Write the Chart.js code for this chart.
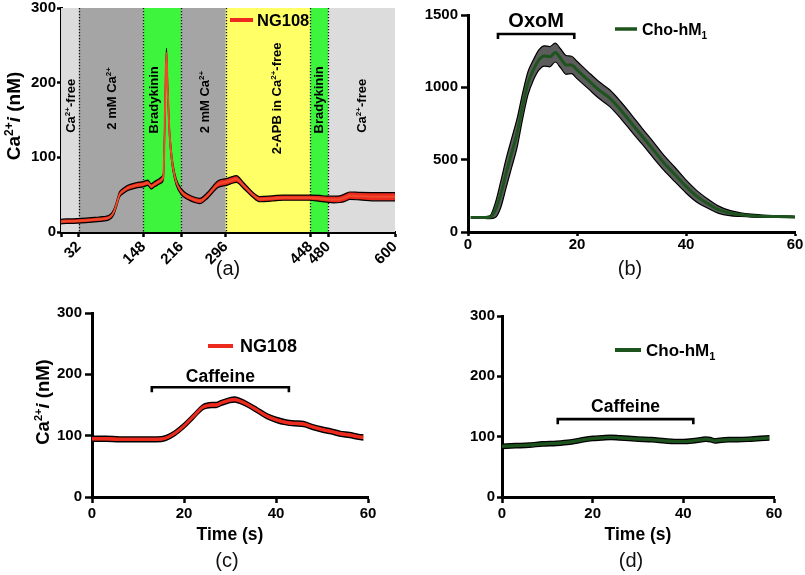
<!DOCTYPE html>
<html><head><meta charset="utf-8">
<script src="https://cdn.jsdelivr.net/npm/chart.js@4.4.1/dist/chart.umd.min.js"></script>
<style>
body{margin:0;background:#fff;width:805px;height:575px;position:relative;overflow:hidden;font-family:"Liberation Sans",Arial,sans-serif}
.pan{position:absolute}
.cap{position:absolute;font-size:20px;transform:translate(-50%,-50%);color:#111;white-space:nowrap}
</style></head><body>
<div class="pan" style="left:0;top:0;width:400px;height:272px"><canvas id="ca"></canvas></div>
<div class="pan" style="left:400px;top:0;width:405px;height:260px"><canvas id="cb"></canvas></div>
<div class="pan" style="left:0;top:290px;width:400px;height:260px"><canvas id="cc"></canvas></div>
<div class="pan" style="left:400px;top:290px;width:405px;height:260px"><canvas id="cd"></canvas></div>
<div class="cap" style="left:228px;top:268px">(a)</div>
<div class="cap" style="left:630px;top:268px">(b)</div>
<div class="cap" style="left:227px;top:560px">(c)</div>
<div class="cap" style="left:631px;top:560px">(d)</div>
<script>
// ---------- DATA ----------
// Panel (a): NG108 cell, time in s, Ca2+i in nM
const aTime = [0,10,20,32,45,60,75,88,95,100,105,112,120,135,148,156,162,168,175,181,184,186,188,189.5,191,193,195,198,201,207,216,228,240,249,264,282,297,305,315,327,345,357,380,399,420,447,465,477,490,501,510,519,537,567,600];
const aMean = [14,14.5,14.5,15,15.5,16.5,17.5,20,27,38,50,55,59,62.5,64,66,61,64,67,70,75,130,210,240,205,165,132,105,87,67,54,47,43,41.5,49.6,64,67,69,71,63,49.6,44,45,46,46,46,45,44,43.5,44,46,48.6,48,47.3,47.3];
const aSem  = [3,3,3,3,3,3,3,3,3.5,3.5,3.5,3.5,3.5,3.5,3.5,3.5,3.5,3.5,3.5,4,4,5,6,6,6,5,5,5,4.5,4,4,3.5,3.5,3.5,4,4.5,4.5,4.5,4.5,4,3.5,3.5,3.5,3.5,3.5,3.5,4,4,4.5,4.5,5,5,5,5.5,5.5];
const aTicks = [0,32,148,216,296,448,480,600];
const aYTicks = [0,100,200,300];
const aBandStart = [0,32,148,216,296,448,480];
const aBandEnd   = [32,148,216,296,448,480,600];
const aBandNames = ['Ca^2+^-free','2 mM Ca^2+^','Bradykinin','2 mM Ca^2+^','2-APB in Ca^2+^-free','Bradykinin','Ca^2+^-free'];
const aLabelTime  = [17,90,165,258,386,462,540];
const aLabelValue = [169,179,177,174,179,177,169];
const aSeries = 'NG108';

// Panel (b): Cho-hM1, OxoM
const bTime = [0.5,2,4,5,6,7,8,9,10,11,12,13,14,15,16,17,18,19,20,22,24,26,28,30,32,34,36,38,40,42,44,46,48,50,52,55,58,60];
const bMean = [100,100,102,150,258,407,545,683,867,1028,1120,1189,1217,1212,1240,1200,1155,1155,1120,1051,982,925,844,752,660,568,476,396,315,246,196,154,131,120,113,108,106,104];
const bSem  = [5,5,10,50,90,100,100,100,90,80,70,70,70,70,65,65,65,60,60,58,58,58,58,58,55,55,52,50,45,40,32,25,18,13,10,7,5,5];
const bXTicks = [0,20,40,60];
const bYTicks = [0,500,1000,1500];
const bBracket = [5.5,19.5];
const bBracketValue = 1369;
const bBracketLabel = 'OxoM';
const bSeries = 'Cho-hM_1_';

// Panel (c): NG108, caffeine
const cTime = [0,3,6,9,12,14,16,18,20,22,24,25,26,27,28,30,31,32,34,36,38,40,42,44,46,48,50,52,54,56,58,59];
const cMean = [95,95,94,94,94,94,96,104,116,131,146,149,150,150,153,158,159,157,150,141,132,126,122,120,119,114,110,107,103,101,98,97];
const cSem  = [4,4,4,4,4,4,4,4,4,4,4,4,4,4,4,4,4,4,4,4,4,4,4,4,4,4,4,4,4,4,4,4];
const cXTicks = [0,20,40,60];
const cYTicks = [0,100,200,300];
const cBracket = [13,42.8];
const cBracketValue = 179;
const cBracketLabel = 'Caffeine';
const cSeries = 'NG108';

// Panel (d): Cho-hM1, caffeine
const dTime = [0,3,6,9,12,15,18,20,22,24,26,28,30,33,36,38,40,42,44,45,46,47,48,50,52,55,57,59];
const dMean = [84,85,86,88,89,91,95,97,98,99,98,97,96,95,93,92,92,93,95,96,95,93,94,95,95,96,97,98];
const dSem  = [3.5,3.5,3.5,3.5,3.5,3.5,3.5,3.5,3.5,3.5,3.5,3.5,3.5,3.5,3.5,3.5,3.5,3.5,3.5,3.5,3.5,3.5,3.5,3.5,3.5,3.5,3.5,3.5];
const dXTicks = [0,20,40,60];
const dYTicks = [0,100,200,300];
const dBracket = [12.3,42.2];
const dBracketValue = 129;
const dBracketLabel = 'Caffeine';
const dSeries = 'Cho-hM_1_';

const yTitle = 'Ca^2+^*i* (nM)';
const xTitle = 'Time (s)';

// ---------- DRAWING ----------
const FONT = '"Liberation Sans", Arial, Helvetica, sans-serif';
const BAND_COLORS = ['#dcdcdc','#a5a5a5','#3cf53c','#a5a5a5','#ffff66','#3cf53c','#dcdcdc'];

function parseRich(str){
  const segs=[]; let m={sup:false,sub:false,it:false}; let buf='';
  for(const ch of str){
    if(ch==='^'||ch==='_'||ch==='*'){
      if(buf) segs.push({t:buf,sup:m.sup,sub:m.sub,it:m.it});
      buf='';
      if(ch==='^') m.sup=!m.sup; else if(ch==='_') m.sub=!m.sub; else m.it=!m.it;
      continue;
    }
    buf+=ch;
  }
  if(buf) segs.push({t:buf,sup:m.sup,sub:m.sub,it:m.it});
  return segs;
}
function drawRich(ctx,str,x,y,size,rot,align){
  const segs=parseRich(str);
  const fontOf=s=>`${s.it?'italic ':''}bold ${(s.sup||s.sub)?Math.round(size*0.62):size}px ${FONT}`;
  let total=0;
  segs.forEach(s=>{ctx.font=fontOf(s); s.w=ctx.measureText(s.t).width; total+=s.w;});
  ctx.save(); ctx.translate(x,y); ctx.rotate(rot||0);
  let cx = align==='left'?0:-total/2;
  ctx.textAlign='left'; ctx.textBaseline='alphabetic'; ctx.fillStyle='#000';
  const base=size*0.36;
  segs.forEach(s=>{
    ctx.font=fontOf(s);
    const dy = s.sup?-size*0.38:(s.sub?size*0.24:0);
    ctx.fillText(s.t,cx,base+dy); cx+=s.w;
  });
  ctx.restore();
}

const decor = {
  id:'decor',
  beforeDatasetsDraw(chart){
    const o=chart.options.plugins.decor; if(!o) return;
    const {ctx,chartArea:ca,scales:{x,y}}=chart;
    if(o.bands){
      ctx.save();
      o.bands.start.forEach((s,i)=>{
        const x0=x.getPixelForValue(s), x1=x.getPixelForValue(o.bands.end[i]);
        ctx.fillStyle=BAND_COLORS[i];
        ctx.fillRect(x0,ca.top,x1-x0,ca.bottom-ca.top);
      });
      ctx.strokeStyle='#111'; ctx.lineWidth=1.3; ctx.setLineDash([1.3,1.7]);
      o.bands.start.slice(1).forEach(s=>{
        const px=Math.round(x.getPixelForValue(s))+0.5;
        ctx.beginPath(); ctx.moveTo(px,ca.top); ctx.lineTo(px,ca.bottom); ctx.stroke();
      });
      ctx.setLineDash([]);
      o.bands.names.forEach((n,i)=>{
        drawRich(ctx,n,x.getPixelForValue(o.bands.lt[i]),y.getPixelForValue(o.bands.lv[i]),13,-Math.PI/2);
      });
      ctx.restore();
    }
  },
  afterDraw(chart){
    const o=chart.options.plugins.decor; if(!o) return;
    const {ctx,scales:{x,y}}=chart;
    ctx.save();
    if(o.legend){
      const L=o.legend;
      ctx.strokeStyle=L.color; ctx.lineWidth=L.lw; ctx.lineCap='butt';
      ctx.beginPath(); ctx.moveTo(L.x1,L.y); ctx.lineTo(L.x2,L.y); ctx.stroke();
      drawRich(ctx,L.text,L.tx,L.y,L.size,0,'left');
    }
    if(o.bracket){
      const B=o.bracket;
      const x0=x.getPixelForValue(B.range[0]), x1=x.getPixelForValue(B.range[1]), py=y.getPixelForValue(B.value);
      ctx.strokeStyle='#000'; ctx.lineWidth=2.6; ctx.lineCap='butt';
      ctx.beginPath(); ctx.moveTo(x0,py+5); ctx.lineTo(x0,py); ctx.lineTo(x1,py); ctx.lineTo(x1,py+5); ctx.stroke();
      drawRich(ctx,B.text,(x0+x1)/2,py-B.off,B.size,0);
    }
    if(o.ytitle){
      drawRich(ctx,yTitle,o.ytitle.x,o.ytitle.y,o.ytitle.size,-Math.PI/2);
    }
    ctx.restore();
  }
};
Chart.register(decor);

function makeChart(id,o){
  const up=o.time.map((t,i)=>({x:t,y:o.mean[i]+o.sem[i]}));
  const lo=o.time.map((t,i)=>({x:t,y:o.mean[i]-o.sem[i]}));
  const mid=o.time.map((t,i)=>({x:t,y:o.mean[i]}));
  const zero=s=>{s.paddingLeft=0;s.paddingRight=0;s.paddingTop=0;s.paddingBottom=0;};
  const tickFont={family:FONT,weight:'bold',size:15};
  return new Chart(document.getElementById(id),{
    type:'line',
    data:{datasets:[
      {label:o.name+' upper',data:up,borderColor:o.edge,borderWidth:o.edgeW,pointRadius:0,fill:false,order:1,cubicInterpolationMode:'monotone'},
      {label:o.name+' lower',data:lo,borderColor:o.edge,borderWidth:o.edgeW,pointRadius:0,fill:'-1',backgroundColor:o.band,order:2,cubicInterpolationMode:'monotone'},
      {label:o.name,data:mid,borderColor:o.line,borderWidth:o.lineW,pointRadius:0,fill:false,order:0,cubicInterpolationMode:'monotone'}
    ]},
    options:{
      responsive:true,maintainAspectRatio:false,animation:false,events:[],
      layout:{padding:{left:0,top:o.area.t,right:o.W-o.area.r,bottom:0}},
      plugins:{legend:{display:false},tooltip:{enabled:false},decor:o.decor},
      scales:{
        x:{type:'linear',min:o.xr[0],max:o.xr[1],z:1,
          border:{color:'#000',width:3},
          grid:{drawOnChartArea:false,drawTicks:true,tickLength:o.xtl,tickColor:'#000',tickWidth:2.5},
          ticks:{color:'#000',font:tickFont,padding:o.xpad,autoSkip:false,maxRotation:o.rot,minRotation:o.rot,
            callback:(v)=> (o.hideZeroX && v===0)?'':String(v)},
          afterBuildTicks:ax=>{ax.ticks=o.xTicks.map(v=>({value:v}));},
          afterFit:s=>{s.height=o.H-o.area.b;zero(s);},
          title:o.xTitle?{display:true,text:o.xTitle,color:'#000',font:{family:FONT,weight:'bold',size:17.5},padding:{top:0,bottom:4.5}}:{display:false}
        },
        y:{type:'linear',min:o.yr[0],max:o.yr[1],z:1,
          border:{color:'#000',width:3},
          grid:{drawOnChartArea:false,drawTicks:true,tickLength:o.ytl,tickColor:'#000',tickWidth:2.5},
          ticks:{color:'#000',font:tickFont,padding:o.ypad,autoSkip:false,callback:(v)=>String(v)},
          afterBuildTicks:ax=>{ax.ticks=o.yTicks.map(v=>({value:v}));},
          afterFit:s=>{s.width=o.area.l;zero(s);}
        }
      }
    }
  });
}

const RED='#ec2a1e', GREEN='#1d531d';

makeChart('ca',{name:aSeries,time:aTime,mean:aMean,sem:aSem,W:400,H:272,area:{l:61,t:8,r:395,b:232},
  xr:[0,600],yr:[0,300],xTicks:aTicks,yTicks:aYTicks,rot:45,hideZeroX:true,xtl:5,xpad:1,ytl:4,ypad:1,
  edge:'#000',edgeW:1.2,band:RED,line:'#f04a2a',lineW:2,
  decor:{bands:{start:aBandStart,end:aBandEnd,names:aBandNames,lt:aLabelTime,lv:aLabelValue},
    legend:{x1:230,x2:253,y:20,color:RED,lw:4,text:aSeries,tx:257,size:16.5},
    ytitle:{x:13,y:116,size:19}}});

makeChart('cb',{name:bSeries,time:bTime,mean:bMean,sem:bSem,W:405,H:260,area:{l:68,t:15,r:395,b:232},
  xr:[0,60],yr:[0,1500],xTicks:bXTicks,yTicks:bYTicks,rot:0,xtl:4,xpad:0,ytl:7,ypad:3,
  edge:'#000',edgeW:1.2,band:'#5c5c5c',line:GREEN,lineW:3,
  decor:{legend:{x1:215,x2:237,y:29,color:GREEN,lw:3.5,text:bSeries,tx:242,size:16},
    bracket:{range:bBracket,value:bBracketValue,text:bBracketLabel,size:20,off:14}}});

makeChart('cc',{name:cSeries,time:cTime,mean:cMean,sem:cSem,W:400,H:260,area:{l:92,t:23,r:368,b:207},
  xr:[0,60],yr:[0,300],xTicks:cXTicks,yTicks:cYTicks,rot:0,xtl:6,xpad:2,ytl:7,ypad:3,xTitle:xTitle,
  edge:'#000',edgeW:1.5,band:RED,line:RED,lineW:3,
  decor:{legend:{x1:208,x2:233,y:56,color:RED,lw:4,text:cSeries,tx:240,size:18},
    bracket:{range:cBracket,value:cBracketValue,text:cBracketLabel,size:17.5,off:12},
    ytitle:{x:42,y:112,size:18.5}}});

makeChart('cd',{name:dSeries,time:dTime,mean:dMean,sem:dSem,W:405,H:260,area:{l:102,t:26,r:374,b:207},
  xr:[0,60],yr:[0,300],xTicks:dXTicks,yTicks:dYTicks,rot:0,xtl:6,xpad:2,ytl:5,ypad:2,xTitle:xTitle,
  edge:'#000',edgeW:1.5,band:GREEN,line:GREEN,lineW:3,
  decor:{legend:{x1:215,x2:241,y:60,color:GREEN,lw:4,text:dSeries,tx:246,size:17},
    bracket:{range:dBracket,value:dBracketValue,text:dBracketLabel,size:17.5,off:13}}});
</script>
</body></html>
